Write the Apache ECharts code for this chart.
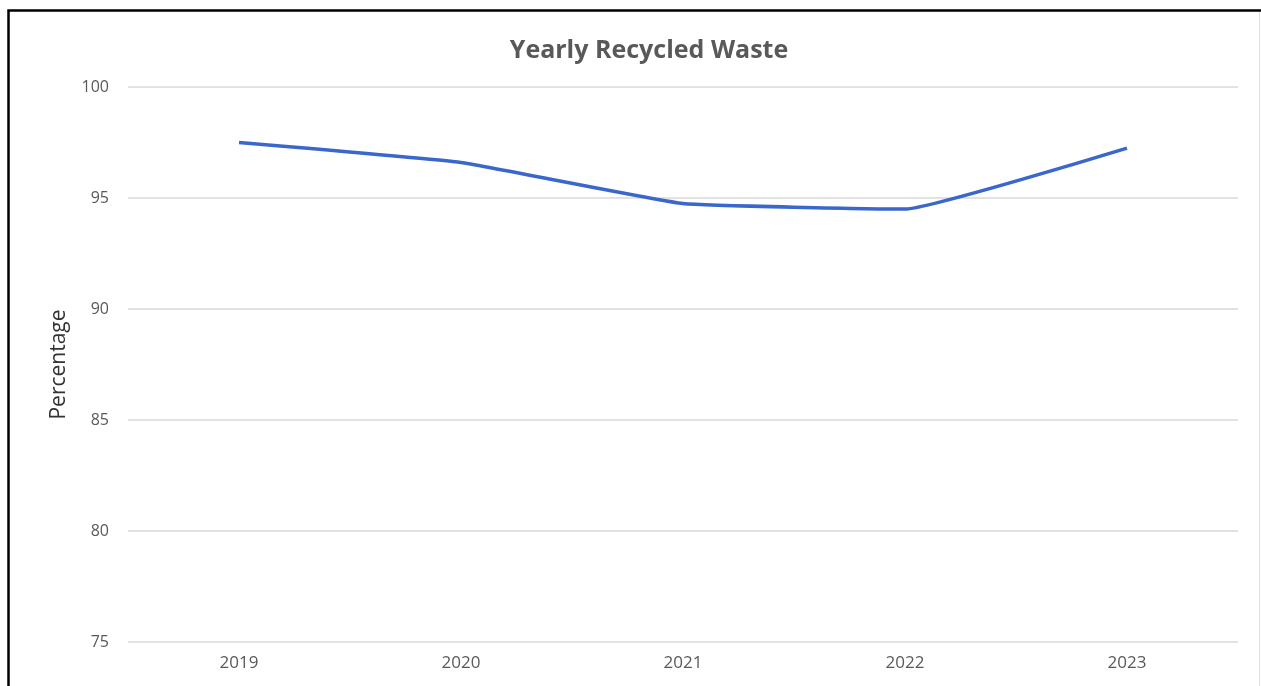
<!DOCTYPE html>
<html>
<head>
<meta charset="utf-8">
<script src="https://cdn.jsdelivr.net/npm/echarts@6/dist/echarts.min.js"></script>
<style>
    html, body {margin: 0; padding: 0; background: #fff;}
    #chart {width: 1261px; height: 686px;}
</style>
</head>
<body>
<div id="chart"></div>
<script>
// 年份
const years = ['2019', '2020', '2021', '2022', '2023'];
// 回收比例
const recycled = [97.5, 96.6, 94.75, 94.5, 97.25];
// y轴刻度
const yMin = 75;
const yMax = 100;
const yStep = 5;

const chart = echarts.init(document.getElementById('chart'));
const font = '"Open Sans", "Liberation Sans", sans-serif';

const option = {
    backgroundColor: '#fff',
    animation: false,
    title: {
        text: 'Yearly Recycled Waste',
        left: 644,
        top: 33,
        textAlign: 'center',
        textStyle: {
            fontFamily: font,
            fontSize: 25,
            fontWeight: 'bold',
            color: '#595959',
        },
    },
    grid: {
        left: 128,
        right: 23,
        top: 87,
        bottom: 44,
    },
    xAxis: {
        type: 'category',
        data: years,
        boundaryGap: true,
        axisLine: {show: false},
        axisTick: {show: false},
        axisLabel: {
            fontFamily: font,
            fontSize: 17,
            color: '#595959',
            margin: 13,
        },
    },
    yAxis: {
        type: 'value',
        min: yMin,
        max: yMax,
        interval: yStep,
        name: 'Percentage',
        nameLocation: 'middle',
        nameGap: 58,
        nameTextStyle: {
            fontFamily: font,
            fontSize: 21,
            color: '#333',
        },
        axisLine: {show: false},
        axisTick: {show: false},
        axisLabel: {
            fontFamily: font,
            fontSize: 16,
            color: '#595959',
            margin: 19,
        },
        splitLine: {
            lineStyle: {color: '#d9d9d9', width: 1.5},
        },
    },
    series: [
        {
            type: 'line',
            data: recycled,
            symbol: 'none',
            smooth: 0.1,
            lineStyle: {color: '#3a67cc', width: 3.5},
        },
    ],
    graphic: [
        {
            type: 'polyline',
            shape: {points: [[8.5, 686], [8.5, 10.5], [1261, 10.5]]},
            style: {stroke: '#000', lineWidth: 2.5, fill: null},
        },
        {
            type: 'line',
            shape: {x1: 1259.5, y1: 12, x2: 1259.5, y2: 686},
            style: {stroke: '#e0e0e0', lineWidth: 1},
        },
    ],
};

chart.setOption(option);
</script>
</body>
</html>
